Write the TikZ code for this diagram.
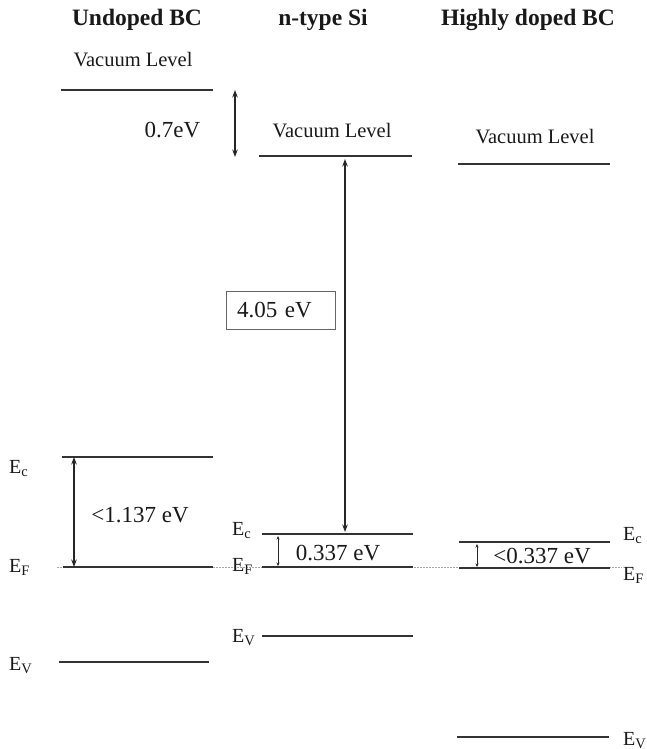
\documentclass[tikz,border=0pt]{standalone}
\usepackage{fontspec}
\setmainfont{Liberation Serif}
\usetikzlibrary{arrows.meta}
\newcommand\Esub[1]{E\raisebox{-0.35ex}{\fontsize{14.5}{14.5}\selectfont #1}}
\begin{document}
\begin{tikzpicture}[x=1pt,y=-1pt,
 level/.style={line width=1.3pt, draw=black!80},
 fermi/.style={draw=black!35, line width=0.8pt, dash pattern=on 1.5pt off 1.5pt},
 gap/.style={line width=1.2pt, draw=black!85, {Stealth[length=7.5pt,width=5.5pt]}-{Stealth[length=7.5pt,width=5.5pt]}},
 smallgap/.style={line width=0.9pt, draw=black!85, {Stealth[length=3.5pt,width=3pt]}-{Stealth[length=3.5pt,width=3pt]}},
 head/.style={font=\bfseries\fontsize{23.5}{26}\selectfont, anchor=base, inner sep=0pt, text=black!90},
 vac/.style={font=\fontsize{20.5}{23}\selectfont, anchor=base, inner sep=0pt, text=black!90},
 val/.style={font=\fontsize{23}{26}\selectfont, anchor=base, inner sep=0pt, text=black!90},
 elab/.style={font=\fontsize{20}{22}\selectfont, anchor=base west, inner sep=0pt, text=black!90},
 valbox/.style={draw=black!60, line width=0.8pt, font=\fontsize{23}{26}\selectfont, text=black!90,
   minimum height=38pt, inner xsep=0pt, inner ysep=0pt, text width=109pt, align=left},
]
\useasboundingbox (0,0) rectangle (647,749);

% headers
\node[head] (h1) at (137,26) {Undoped BC};
\node[head] (h2) at (323,26) {n-type Si};
\node[head] (h3) at (528,26) {Highly doped BC};

% vacuum levels
\node[vac] (vac1) at (133,67) {Vacuum Level};
\node[vac] (vac2) at (332,138) {Vacuum Level};
\node[vac] (vac3) at (535,143) {Vacuum Level};
\coordinate (v1L) at (61,90);  \coordinate (v1R) at (213,90);
\coordinate (v2L) at (259,156); \coordinate (v2R) at (412,156);
\coordinate (v3L) at (458,164); \coordinate (v3R) at (610,164);

% Fermi reference line
\coordinate (fL) at (57,567); \coordinate (fR) at (622,567);
\draw[fermi] (fL) -- (fR);

% undoped BC levels
\coordinate (c1L) at (62,457); \coordinate (c1R) at (213,457);
\coordinate (f1L) at (63,567); \coordinate (f1R) at (213,567);
\coordinate (e1L) at (59,662); \coordinate (e1R) at (209,662);
% n-type Si levels
\coordinate (c2L) at (262,534); \coordinate (c2R) at (413,534);
\coordinate (f2L) at (262,567); \coordinate (f2R) at (413,567);
\coordinate (e2L) at (262,636); \coordinate (e2R) at (413,636);
% highly doped BC levels
\coordinate (c3L) at (459,542); \coordinate (c3R) at (610,542);
\coordinate (f3L) at (459,568); \coordinate (f3R) at (610,568);
\coordinate (e3L) at (457,737); \coordinate (e3R) at (609,737);

\foreach \a/\b in {v1L/v1R,v2L/v2R,v3L/v3R,c1L/c1R,f1L/f1R,e1L/e1R,c2L/c2R,f2L/f2R,e2L/e2R,c3L/c3R,f3L/f3R,e3L/e3R}
  \draw[level] (\a) -- (\b);

% band labels
\node[elab] (lc1) at (9,473) {\Esub{c}};
\node[elab] (lf1) at (9,572) {\Esub{F}};
\node[elab] (lv1) at (9,670) {\Esub{V}};
\node[elab] (lc2) at (232,535) {\Esub{c}};
\node[elab] (lf2) at (232,571) {\Esub{F}};
\node[elab] (lv2) at (232,642) {\Esub{V}};
\node[elab] (lc3) at (623,540) {\Esub{c}};
\node[elab] (lf3) at (623,580) {\Esub{F}};
\node[elab] (lv3) at (623,745) {\Esub{V}};

% arrows
\coordinate (a1t) at (235,90);  \coordinate (a1b) at (235,157);
\coordinate (a2t) at (345,159); \coordinate (a2b) at (345,532);
\coordinate (a3t) at (74,457);  \coordinate (a3b) at (74,567);
\coordinate (a4t) at (278,536); \coordinate (a4b) at (278,566);
\coordinate (a5t) at (477,544); \coordinate (a5b) at (477,567);
\draw[gap] (a1t) -- (a1b);
\draw[gap] (a2t) -- (a2b);
\draw[gap] (a3t) -- (a3b);
\draw[smallgap] (a4t) -- (a4b);
\draw[smallgap] (a5t) -- (a5b);

% values
\node[val] (d1) at (172.5,137) {0.7eV};
\node[valbox] (d2) at (280.5,310) {\hspace*{11pt}4.05 eV};
\node[val] (d3) at (140,522) {<1.137 eV};
\node[val] (d4) at (338,560) {0.337 eV};
\node[val] (d5) at (542,563) {<0.337 eV};
\end{tikzpicture}
\end{document}
